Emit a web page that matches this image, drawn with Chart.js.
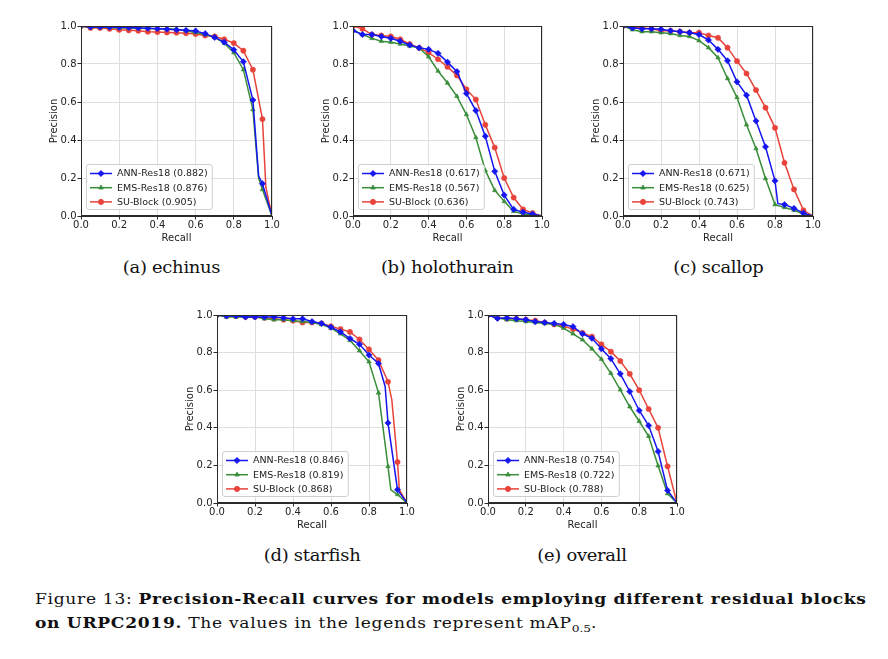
<!DOCTYPE html>
<html>
<head>
<meta charset="utf-8">
<script src="https://cdn.jsdelivr.net/npm/chart.js@4.4.1/dist/chart.umd.min.js"></script>
<style>
  html, body { margin: 0; padding: 0; background: #fff; }
  #page { position: relative; width: 888px; height: 659px; overflow: hidden; }
  .panel { position: absolute; }
  .sub { position: absolute; font-family: "DejaVu Serif", serif; font-size: 16px; line-height: 18px; color: #111; white-space: nowrap; }
  .cap { position: absolute; left: 35px; font-family: "DejaVu Serif", serif; font-size: 14px; line-height: 16px; color: #111; white-space: nowrap; transform-origin: 0 50%; }
  .cap sub { font-size: 10px; line-height: 0; letter-spacing: 0; }
</style>
</head>
<body>
<div id="page">
  <div class="sub" id="sub-a" data-cx="171.5" style="top:258.5px">(a) echinus</div>
  <div class="sub" data-cx="447" style="top:258.5px">(b) holothurain</div>
  <div class="sub" data-cx="718" style="top:258.5px">(c) scallop</div>
  <div class="sub" data-cx="312" style="top:546.5px">(d) starfish</div>
  <div class="sub" data-cx="582" style="top:546.5px">(e) overall</div>
  <div class="cap" id="cap1" style="top:591px">Figure 13: <b>Precision-Recall curves for models employing different residual blocks</b></div>
  <div class="cap" id="cap2" style="top:615px"><b>on URPC2019.</b> The values in the legends represent mAP<sub>0.5</sub>.</div>
</div>
<script>
// series names and mAP values per panel
const seriesNames = ['ANN-Res18', 'EMS-Res18', 'SU-Block'];
const panelNames = ['echinus', 'holothurain', 'scallop', 'starfish', 'overall'];
const mapValues = [
  [0.882, 0.876, 0.905],
  [0.617, 0.567, 0.636],
  [0.671, 0.625, 0.743],
  [0.846, 0.819, 0.868],
  [0.754, 0.722, 0.788]
];
const tickValues = [0, 0.2, 0.4, 0.6, 0.8, 1.0];

// recall grid every 0.05 (markers sit on these)
const grid = [0, 0.05, 0.1, 0.15, 0.2, 0.25, 0.3, 0.35, 0.4, 0.45, 0.5,
              0.55, 0.6, 0.65, 0.7, 0.75, 0.8, 0.85, 0.9, 0.95, 1.0];

// (a) echinus
const echinusAnnX = [...grid.slice(0, 19), 0.93, 0.95, 1.0];
const echinusAnnY = [1.0, 0.995, 0.995, 0.994, 0.993, 0.992, 0.99, 0.988, 0.986, 0.983, 0.98,
                     0.977, 0.974, 0.96, 0.94, 0.915, 0.875, 0.812, 0.61, 0.21, 0.17, 0.0];
const echinusEmsX = [...grid.slice(0, 19), 0.93, 0.95, 1.0];
const echinusEmsY = [1.0, 0.995, 0.993, 0.992, 0.99, 0.99, 0.988, 0.987, 0.986, 0.985, 0.983,
                     0.975, 0.965, 0.955, 0.94, 0.91, 0.86, 0.77, 0.56, 0.2, 0.14, 0.0];
const echinusSuX = [...grid.slice(0, 20), 0.968, 1.0];
const echinusSuY = [1.0, 0.99, 0.99, 0.985, 0.98, 0.977, 0.975, 0.97, 0.968, 0.966, 0.965,
                    0.962, 0.958, 0.95, 0.945, 0.93, 0.91, 0.87, 0.77, 0.51, 0.15, 0.0];

// (b) holothurain
const holoAnnX = grid;
const holoAnnY = [0.975, 0.955, 0.955, 0.945, 0.935, 0.92, 0.9, 0.885, 0.877, 0.856, 0.81,
                  0.76, 0.645, 0.555, 0.42, 0.235, 0.11, 0.035, 0.02, 0.01, 0.0];
const holoEmsX = grid;
const holoEmsY = [0.98, 0.955, 0.935, 0.92, 0.915, 0.905, 0.895, 0.885, 0.838, 0.763, 0.70,
                  0.63, 0.534, 0.413, 0.24, 0.135, 0.077, 0.025, 0.01, 0.005, 0.0];
const holoSuX = grid;
const holoSuY = [1.0, 0.985, 0.955, 0.95, 0.945, 0.93, 0.905, 0.885, 0.86, 0.825, 0.785,
                 0.74, 0.667, 0.613, 0.48, 0.36, 0.2, 0.097, 0.035, 0.015, 0.0];

// (c) scallop
const scalAnnX = [...grid.slice(0, 17), 0.815, ...grid.slice(17)];
const scalAnnY = [1.0, 0.99, 0.985, 0.985, 0.983, 0.975, 0.97, 0.965, 0.955, 0.926, 0.877,
                  0.817, 0.706, 0.636, 0.5, 0.364, 0.185, 0.065, 0.06, 0.04, 0.015, 0.0];
const scalEmsX = grid;
const scalEmsY = [1.0, 0.98, 0.97, 0.97, 0.965, 0.96, 0.95, 0.945, 0.923, 0.886, 0.833,
                  0.724, 0.624, 0.48, 0.355, 0.197, 0.06, 0.045, 0.03, 0.01, 0.0];
const scalSuX = grid;
const scalSuY = [1.0, 0.995, 0.99, 0.985, 0.975, 0.975, 0.97, 0.965, 0.965, 0.95, 0.938,
                 0.886, 0.815, 0.75, 0.663, 0.57, 0.464, 0.28, 0.14, 0.03, 0.0];

// (d) starfish
const starAnnX = [...grid.slice(0, 18), 0.885, ...grid.slice(18)];
const starAnnY = [1.0, 0.995, 0.995, 0.99, 0.99, 0.99, 0.99, 0.985, 0.98, 0.98, 0.965,
                  0.955, 0.935, 0.91, 0.875, 0.844, 0.787, 0.742, 0.62, 0.426, 0.071, 0.0];
const starEmsX = [...grid.slice(0, 19), 0.915, ...grid.slice(19)];
const starEmsY = [1.0, 0.99, 0.99, 0.99, 0.99, 0.98, 0.975, 0.975, 0.97, 0.965, 0.96,
                  0.95, 0.93, 0.9, 0.865, 0.81, 0.751, 0.586, 0.195, 0.07, 0.045, 0.0];
const starSuX = [...grid.slice(0, 19), 0.92, 0.95, 0.96, 1.0];
const starSuY = [1.0, 0.995, 0.995, 0.99, 0.99, 0.985, 0.98, 0.975, 0.97, 0.96, 0.96,
                 0.955, 0.94, 0.925, 0.91, 0.87, 0.817, 0.76, 0.645, 0.55, 0.218, 0.07, 0.0];

// (e) overall
const allAnnX = grid;
const allAnnY = [1.0, 0.982, 0.985, 0.98, 0.975, 0.965, 0.96, 0.955, 0.95, 0.938, 0.9,
                 0.876, 0.82, 0.768, 0.687, 0.593, 0.492, 0.412, 0.274, 0.067, 0.0];
const allEmsX = grid;
const allEmsY = [1.0, 0.985, 0.975, 0.97, 0.965, 0.96, 0.955, 0.95, 0.93, 0.9, 0.868,
                 0.82, 0.765, 0.69, 0.602, 0.512, 0.435, 0.355, 0.198, 0.05, 0.0];
const allSuX = grid;
const allSuY = [1.0, 0.985, 0.98, 0.98, 0.975, 0.97, 0.96, 0.95, 0.94, 0.925, 0.905,
                0.885, 0.844, 0.805, 0.755, 0.687, 0.6, 0.5, 0.4, 0.195, 0.0];

const curves = [
  [[echinusAnnX, echinusAnnY], [echinusEmsX, echinusEmsY], [echinusSuX, echinusSuY]],
  [[holoAnnX, holoAnnY], [holoEmsX, holoEmsY], [holoSuX, holoSuY]],
  [[scalAnnX, scalAnnY], [scalEmsX, scalEmsY], [scalSuX, scalSuY]],
  [[starAnnX, starAnnY], [starEmsX, starEmsY], [starSuX, starSuY]],
  [[allAnnX, allAnnY], [allEmsX, allEmsY], [allSuX, allSuY]]
];

// styling and placement (plot area boxes in page pixels)
const colors = ['#1515f0', '#3a8e3a', '#e8433b'];
const markers = ['rectRot', 'triangle', 'circle'];
const markerSize = [3.1, 2.6, 2.6];
const plotBoxes = [
  {l: 81, t: 26, r: 272, b: 216},
  {l: 353, t: 26, r: 542, b: 216},
  {l: 623, t: 26, r: 813, b: 216},
  {l: 217, t: 315, r: 407, b: 503},
  {l: 488, t: 315, r: 677, b: 503}
];
const AXW = 41, AXH = 28, PADT = 8, PADR = 14, PADB = 2;
const FONT = '"DejaVu Sans", sans-serif';
const FS = 10;

function onGrid(x) {
  return x < 0.999 && Math.abs(x * 20 - Math.round(x * 20)) < 1e-6;
}

const framePlugin = {
  id: 'frame',
  afterDraw(chart) {
    const {ctx, chartArea: a} = chart;
    ctx.save();
    ctx.strokeStyle = '#2a2a2a';
    ctx.lineWidth = 1;
    ctx.strokeRect(Math.round(a.left) + 0.5, Math.round(a.top) + 0.5,
                   Math.round(a.right - a.left) - 1, Math.round(a.bottom - a.top) - 1);
    ctx.restore();
  }
};

const boxLegend = {
  id: 'boxLegend',
  afterDraw(chart) {
    const {ctx, chartArea: a} = chart;
    const sets = chart.data.datasets;
    ctx.save();
    ctx.font = '9.5px ' + FONT;
    const textW = Math.max(...sets.map(s => ctx.measureText(s.label).width));
    const rowH = 14.2, lineLen = 22;
    const w = 4 + lineLen + 5 + textW + 4;
    const h = 45;
    const x = a.left + 5, y = a.bottom - 7 - h;
    ctx.fillStyle = 'rgba(255,255,255,0.85)';
    ctx.strokeStyle = '#cfcfcf';
    ctx.lineWidth = 1;
    ctx.beginPath();
    if (ctx.roundRect) ctx.roundRect(x + 0.5, y + 0.5, w, h, 2.5); else ctx.rect(x + 0.5, y + 0.5, w, h);
    ctx.fill();
    ctx.stroke();
    sets.forEach((s, i) => {
      const cy = y + 9.5 + rowH * i;
      const x0 = x + 4, x1 = x0 + lineLen;
      ctx.strokeStyle = s.borderColor;
      ctx.lineWidth = s.borderWidth;
      ctx.beginPath();
      ctx.moveTo(x0, cy);
      ctx.lineTo(x1, cy);
      ctx.stroke();
      ctx.fillStyle = s.borderColor;
      ctx.lineWidth = 0.8;
      Chart.helpers.drawPoint(ctx, {pointStyle: s.pointStyle, radius: markerSize[i], rotation: 0, borderWidth: 0.8}, (x0 + x1) / 2, cy);
      ctx.fillStyle = '#222';
      ctx.textBaseline = 'middle';
      ctx.textAlign = 'left';
      ctx.fillText(s.label, x1 + 5, cy + 0.5);
    });
    ctx.restore();
  }
};

const page = document.getElementById('page');

panelNames.forEach((name, p) => {
  const box = plotBoxes[p];
  const wrap = document.createElement('div');
  wrap.className = 'panel';
  const W = (box.r - box.l) + AXW + PADR;
  const H = (box.b - box.t) + PADT + AXH + PADB;
  wrap.style.left = (box.l - AXW) + 'px';
  wrap.style.top = (box.t - PADT) + 'px';
  wrap.style.width = W + 'px';
  wrap.style.height = H + 'px';
  const canvas = document.createElement('canvas');
  canvas.id = 'pr-' + name;
  wrap.appendChild(canvas);
  page.appendChild(wrap);

  const datasets = seriesNames.map((s, i) => {
    const [xs, ys] = curves[p][i];
    return {
      label: s + ' (' + mapValues[p][i].toFixed(3) + ')',
      data: xs.map((x, k) => ({x: x, y: ys[k]})),
      borderColor: colors[i],
      backgroundColor: colors[i],
      borderWidth: 1.5,
      pointStyle: markers[i],
      pointRadius: c => (c.raw && onGrid(c.raw.x)) ? markerSize[i] : 0,
      pointBorderWidth: 0.6,
      pointHoverRadius: 0,
      tension: 0,
      fill: false
    };
  });

  const axisCommon = {
    type: 'linear',
    min: 0,
    max: 1,
    grid: { color: '#dedede', lineWidth: 1, tickColor: '#2a2a2a', tickLength: 3.5, drawTicks: true },
    border: { display: true, color: '#2a2a2a' },
    afterBuildTicks: sc => { sc.ticks = tickValues.map(v => ({value: v})); }
  };

  new Chart(canvas, {
    type: 'line',
    data: { datasets },
    options: {
      responsive: true,
      maintainAspectRatio: false,
      animation: false,
      events: [],
      layout: { padding: { left: 0, top: PADT, right: PADR, bottom: PADB } },
      plugins: { legend: { display: false }, tooltip: { enabled: false } },
      scales: {
        x: Object.assign({}, axisCommon, {
          position: 'bottom',
          ticks: { color: '#222', font: { family: FONT, size: FS }, padding: 0, maxRotation: 0,
                   callback: v => Number(v).toFixed(1) },
          title: { display: true, text: 'Recall', color: '#222', font: { family: FONT, size: FS }, padding: { top: 1, bottom: 0 } },
          afterFit: sc => { sc.height = AXH; }
        }),
        y: Object.assign({}, axisCommon, {
          position: 'left',
          ticks: { color: '#222', font: { family: FONT, size: FS }, padding: 1,
                   callback: v => Number(v).toFixed(1) },
          title: { display: true, text: 'Precision', color: '#222', font: { family: FONT, size: FS }, padding: { top: 8.5, bottom: 0 } },
          afterFit: sc => { sc.width = AXW; }
        })
      }
    },
    plugins: [framePlugin, boxLegend]
  });
});

// widen serif text towards the broad look of the original typesetting:
// part horizontal stretch, part letter spacing
function widen(els, refEl, target, stretch) {
  const w = refEl.getBoundingClientRect().width;
  const spacing = (target / stretch - w) / refEl.textContent.length;
  els.forEach(el => { el.style.letterSpacing = spacing + 'px'; });
  return spacing;
}
const subs = [...document.querySelectorAll('.sub')];
const SUB_STRETCH = 1.12;
widen(subs, document.getElementById('sub-a'), 97.5, SUB_STRETCH);
subs.forEach(el => {
  const cx = parseFloat(el.dataset.cx);
  const w = el.getBoundingClientRect().width;
  el.style.left = (cx - w / 2) + 'px';
  el.style.transformOrigin = '50% 50%';
  el.style.transform = 'scaleX(' + SUB_STRETCH + ')';
});
const caps = [...document.querySelectorAll('.cap')];
const CAP_STRETCH = 1.22;
widen(caps, document.getElementById('cap1'), 831, CAP_STRETCH);
caps.forEach(el => { el.style.transform = 'scaleX(' + CAP_STRETCH + ')'; });
</script>
</body>
</html>
